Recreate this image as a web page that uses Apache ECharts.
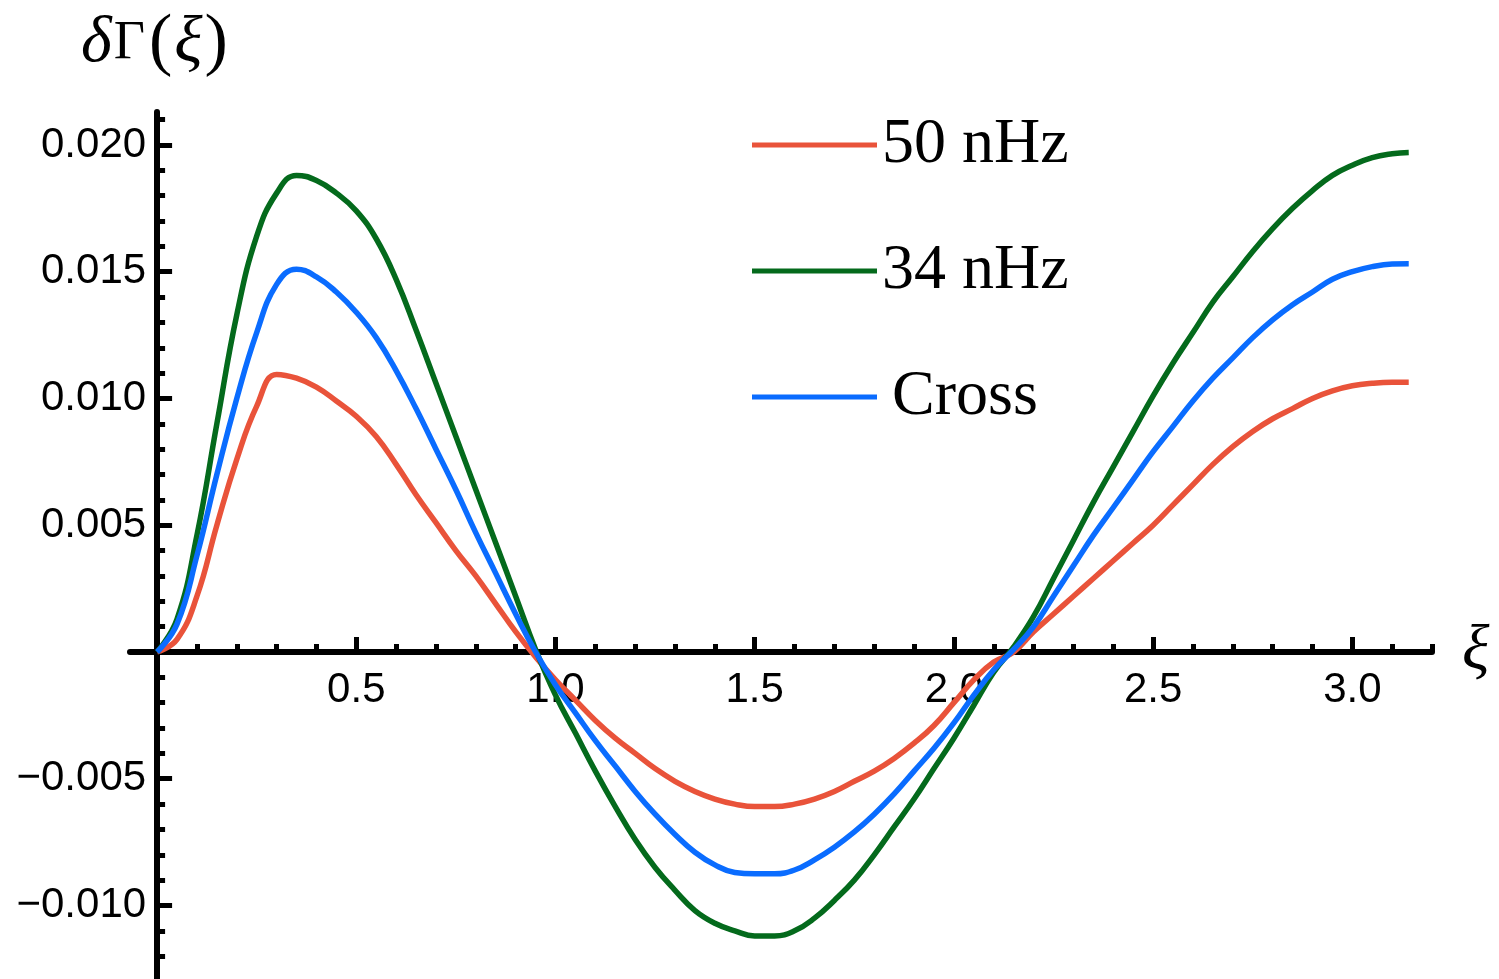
<!DOCTYPE html>
<html><head><meta charset="utf-8">
<script src="https://cdn.jsdelivr.net/npm/echarts@6/dist/echarts.min.js"></script>
<style>html,body{margin:0;padding:0;background:#fff}#c{width:1499px;height:979px}</style>
</head><body><div id="c"></div>
<script>
// xi values (radians)
const xi = [0,0.05,0.1,0.15,0.2,0.25,0.3,
  0.35,0.4,0.45,0.5,0.55,0.6,0.65,0.7,0.75,0.8,0.85,0.9,0.95,1.0,
  1.05,1.1,1.15,1.2,1.25,1.3,1.35,1.4,1.45,1.5,1.55,1.6,1.65,1.7,1.75,1.8,1.85,1.9,1.95,2.0,
  2.05,2.1,2.15,2.2,2.25,2.3,2.35,2.4,2.45,2.5,2.55,2.6,2.65,2.7,2.75,2.8,2.85,2.9,2.95,3.0,3.05,3.1,3.1416];

const gamma50 = [0,0.0005,0.0022,0.0050,0.0076,0.0097,0.01095,
  0.0108,0.01045,0.0099,0.0093,0.0085,0.0074,0.0062,0.0051,0.0040,0.0030,0.0019,0.0008,-0.0002,-0.0011,
  -0.0019,-0.0027,-0.0034,-0.0040,-0.0046,-0.0051,-0.0055,-0.0058,-0.0060,-0.0061,-0.0061,-0.0060,-0.0058,-0.0055,-0.0051,-0.0047,-0.0042,-0.0036,-0.0029,-0.0020,
  -0.0011,-0.0004,0.0000,0.0008,0.0015,0.0022,0.0029,0.0036,0.0043,0.0050,0.0058,0.0066,0.0074,0.0081,0.0087,0.0092,0.0096,0.0100,0.0103,0.0105,0.0106,0.01064,0.01064];

const gamma34 = [0,0.0013,0.0046,0.0090,0.0133,0.0164,0.0181,
  0.0188,0.0186,0.0181,0.0174,0.0163,0.0147,0.0127,0.0106,0.0085,0.0064,0.0043,0.0022,0.0001,-0.0017,
  -0.0032,-0.0047,-0.0061,-0.0074,-0.0085,-0.0094,-0.0102,-0.0107,-0.0110,-0.0112,-0.0112,-0.0110,-0.0105,-0.0098,-0.0090,-0.0080,-0.0069,-0.0058,-0.0046,-0.0034,
  -0.0021,-0.0008,0.0002,0.0014,0.0029,0.0044,0.0059,0.0073,0.0087,0.0101,0.0114,0.0126,0.0138,0.0148,0.0158,0.0167,0.0175,0.0182,0.0188,0.0192,0.0195,0.01965,0.0197];

const gammaCross = [0,0.0011,0.0038,0.0070,0.0100,0.0126,0.0145,
  0.0151,0.0148,0.0142,0.0134,0.0124,0.0111,0.0096,0.0080,0.0064,0.0047,0.0031,0.0015,0.0000,-0.0013,
  -0.0024,-0.0035,-0.0045,-0.0055,-0.0064,-0.0072,-0.0079,-0.0084,-0.0087,-0.00875,-0.00875,-0.0086,-0.0082,-0.0077,-0.0071,-0.0064,-0.0056,-0.0047,-0.0038,-0.0028,
  -0.0017,-0.0007,0.0001,0.0010,0.0022,0.0034,0.0046,0.0057,0.0068,0.0079,0.0089,0.0099,0.0108,0.0116,0.0124,0.0131,0.0137,0.0142,0.0147,0.0150,0.0152,0.0153,0.01531];

const seriesNames = ['50 nHz', '34 nHz', 'Cross'];
const seriesColors = ['#E9533A', '#046A1C', '#0A6CFF'];

const xMajorTicks = [0.5, 1.0, 1.5, 2.0, 2.5, 3.0];
const xMinorTicks = [0.1,0.2,0.3,0.4,0.6,0.7,0.8,0.9,1.1,1.2,1.3,1.4,1.6,1.7,1.8,1.9,2.1,2.2,2.3,2.4,2.6,2.7,2.8,2.9,3.1,3.2];
const yMajorTicks = [-0.010, -0.005, 0.005, 0.010, 0.015, 0.020];
const yMinorTicks = [-0.012,-0.011,-0.009,-0.008,-0.007,-0.006,-0.004,-0.003,-0.002,-0.001,
  0.001,0.002,0.003,0.004,0.006,0.007,0.008,0.009,0.011,0.012,0.013,0.014,0.016,0.017,0.018,0.019,0.021];

const X_MIN = -0.068, X_MAX = 3.2, Y_MIN = -0.0129, Y_MAX = 0.0213;

// grid layout (pixels)
const W = 1499, H = 979;
const G_LEFT = 130, G_RIGHT = 67, G_TOP = 112, G_BOTTOM = 0;
const gridW = W - G_LEFT - G_RIGHT, gridH = H - G_TOP - G_BOTTOM;
// place axes through the origin (axes cross at 0,0)
const xAxisOffset = -gridH * (0 - Y_MIN) / (Y_MAX - Y_MIN);
const yAxisOffset = -gridW * (0 - X_MIN) / (X_MAX - X_MIN);

const chart = echarts.init(document.getElementById('c'), null, {renderer: 'canvas'});
const labelFont = {color: '#000', fontFamily: 'Liberation Sans', fontSize: 42};
const black = '#000';

function xAx(extra) {
  return Object.assign({
    type: 'value', min: X_MIN, max: X_MAX, position: 'bottom', offset: xAxisOffset,
    axisLine: {show: false, onZero: false},
    axisTick: {show: false}, axisLabel: {show: false}, splitLine: {show: false}
  }, extra);
}
function yAx(extra) {
  return Object.assign({
    type: 'value', min: Y_MIN, max: Y_MAX, position: 'left', offset: yAxisOffset,
    axisLine: {show: false, onZero: false},
    axisTick: {show: false}, axisLabel: {show: false}, splitLine: {show: false}
  }, extra);
}

const option = {
  animation: false,
  backgroundColor: '#fff',
  title: {
    left: 76, top: 4,
    text: '{a|δ}{g|Γ}{p|(}{a|ξ}{p|)}',
    textStyle: {
      fontWeight: 'normal',
      rich: {
        a: {fontFamily: 'Liberation Serif', fontStyle: 'italic', fontWeight: 'normal', fontSize: 66, color: black},
        g: {fontFamily: 'Liberation Serif', fontWeight: 'normal', fontSize: 54, color: black, padding: [0, 2, 0, 2]},
        p: {fontFamily: 'Liberation Serif', fontWeight: 'normal', fontSize: 70, color: black, padding: [0, 2, 0, 2]}
      }
    }
  },
  legend: {
    orient: 'vertical',
    left: 752, top: 113,
    padding: 0,
    icon: 'rect',
    itemWidth: 125, itemHeight: 5,
    itemGap: 62,
    selectedMode: false,
    data: seriesNames,
    formatter: n => n === 'Cross' ? '{c|' + n + '}' : n,
    textStyle: {
      fontFamily: 'Liberation Serif', fontSize: 64, color: black, lineHeight: 64,
      rich: {c: {fontFamily: 'Liberation Serif', fontSize: 64, color: black, lineHeight: 64, padding: [0, 0, 0, 10]}}
    }
  },
  grid: {left: G_LEFT, right: G_RIGHT, top: G_TOP, bottom: G_BOTTOM, containLabel: false, outerBoundsMode: 'none'},
  xAxis: [
    xAx({
      axisLine: {show: true, onZero: false, lineStyle: {color: black, width: 6}},
      axisTick: {show: true, inside: true, length: 15, customValues: xMajorTicks, lineStyle: {color: black, width: 5}},
      axisLabel: {show: true, customValues: xMajorTicks, margin: 17, formatter: v => v.toFixed(1), ...labelFont},
      name: 'ξ', nameLocation: 'end', nameGap: 30,
      nameTextStyle: {fontFamily: 'Liberation Serif', fontStyle: 'italic', fontSize: 64, color: black, padding: [14, 0, 0, 0]}
    }),
    xAx({
      axisTick: {show: true, inside: true, length: 8, customValues: xMinorTicks, lineStyle: {color: black, width: 5}}
    })
  ],
  yAxis: [
    yAx({
      axisLine: {show: true, onZero: false, lineStyle: {color: black, width: 6}},
      axisTick: {show: true, inside: true, length: 15, customValues: yMajorTicks, lineStyle: {color: black, width: 5}},
      axisLabel: {show: true, customValues: yMajorTicks, margin: 11,
        formatter: v => (v < 0 ? '\u2212' : '') + Math.abs(v).toFixed(3), ...labelFont}
    }),
    yAx({
      axisTick: {show: true, inside: true, length: 8, customValues: yMinorTicks, lineStyle: {color: black, width: 5}}
    })
  ],
  series: [gamma50, gamma34, gammaCross].map((arr, k) => ({
    name: seriesNames[k],
    type: 'line',
    xAxisIndex: 0, yAxisIndex: 0,
    data: xi.map((x, i) => [x, arr[i]]),
    showSymbol: false, symbol: 'none',
    smooth: 0.45,
    lineStyle: {color: seriesColors[k], width: 5.5},
    itemStyle: {color: seriesColors[k]},
    z: 2 + k
  }))
};
chart.setOption(option);
</script>
</body></html>
